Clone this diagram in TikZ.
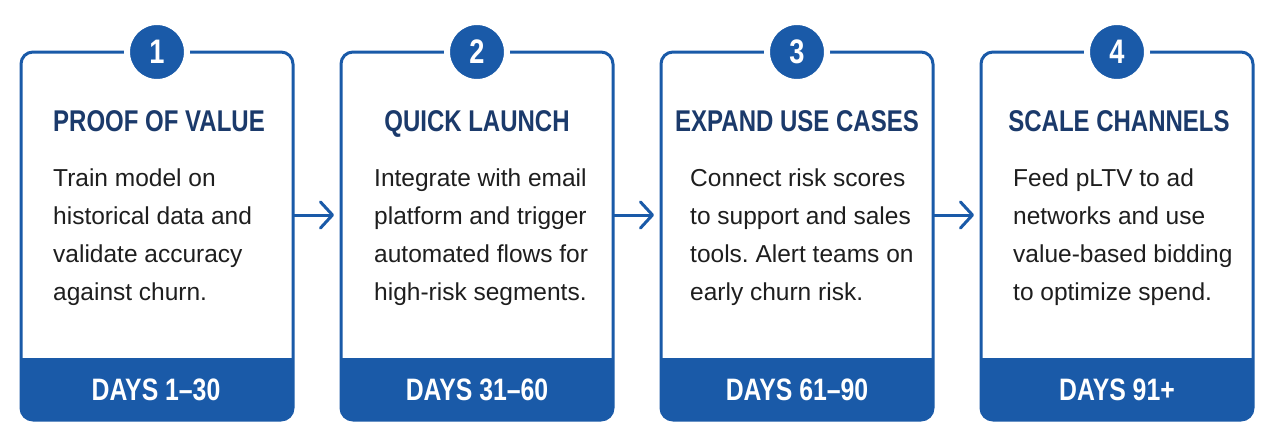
\documentclass[tikz,border=0pt]{standalone}
\usepackage{fontspec}
\setmainfont{Liberation Sans}
\newfontfamily\headfont[FakeStretch=0.8]{Liberation Sans}
\usetikzlibrary{arrows.meta, positioning}
\definecolor{stepblue}{HTML}{1A5AA8}
\definecolor{navy}{HTML}{1B3A6B}
\definecolor{ink}{HTML}{1E1E1E}
\frenchspacing

\begin{document}
\begin{tikzpicture}[x=1pt, y=-1pt]
\fill[white] (0,0) rectangle (1280,442);
\useasboundingbox (0,0) rectangle (1280,442);

\begin{scope}[every node/.style={shape=rectangle,
    draw=stepblue, fill=white, line width=3pt, rounded corners=12pt,
    minimum width=272pt, minimum height=368pt, inner sep=0pt, outer sep=0pt}]
    \node (c1) at (157,236) {};
    \node (c2) at (477,236) {};
    \node (c3) at (797,236) {};
    \node (c4) at (1117,236) {};
\end{scope}

\foreach \c in {c1,c2,c3,c4} {
  \begin{scope}
    \clip[rounded corners=12pt] (\c.south west) rectangle (\c.north east);
    \fill[stepblue] (\c.south west) rectangle ([yshift=62pt]\c.south east);
  \end{scope}
}

\begin{scope}[every node/.style={shape=circle,
    fill=stepblue, draw=white, line width=6pt, minimum size=60pt,
    inner sep=0pt, text=white, font=\headfont\bfseries\fontsize{34}{34}\selectfont}]
    \node (n1) at (c1.north) {1};
    \node (n2) at (c2.north) {2};
    \node (n3) at (c3.north) {3};
    \node (n4) at (c4.north) {4};
\end{scope}

\begin{scope}[every node/.style={inner sep=0pt, anchor=base, text=navy,
    font=\headfont\bfseries\fontsize{30}{30}\selectfont}]
    \node (t1) at (159,131) {PROOF OF VALUE};
    \node (t2) at (477,131) {QUICK LAUNCH};
    \node (t3) at (797,131) {EXPAND USE CASES};
    \node (t4) at (1119,131) {SCALE CHANNELS};
\end{scope}

\begin{scope}[every node/.style={inner sep=0pt, anchor=north west, align=left,
    text=ink, font=\fontsize{24.5}{37.7}\selectfont}]
    \node (b1) at (53,169) {Train model on\\historical data and\\validate accuracy\\against churn.};
    \node (b2) at (374,169) {Integrate with email\\platform and trigger\\automated flows for\\high-risk segments.};
    \node (b3) at (690,169) {Connect risk scores\\to support and sales\\tools. Alert teams on\\early churn risk.};
    \node (b4) at (1013,169) {Feed pLTV to ad\\networks and use\\value-based bidding\\to optimize spend.};
\end{scope}

\begin{scope}[every node/.style={inner sep=0pt, anchor=base, text=white,
    font=\headfont\bfseries\fontsize{31}{31}\selectfont}]
    \node (d1) at (156,400) {DAYS 1–30};
    \node (d2) at (477,400) {DAYS 31–60};
    \node (d3) at (797,400) {DAYS 61–90};
    \node (d4) at (1117,400) {DAYS 91+};
\end{scope}

\begin{scope}[every edge/.style={draw=stepblue, line width=3pt, shorten >=7pt,
    -{Straight Barb[length=12pt, width=26pt, line cap=round, line join=round]}}]
    \path ([yshift=21pt]c1.east) edge ([yshift=21pt]c2.west);
    \path ([yshift=21pt]c2.east) edge ([yshift=21pt]c3.west);
    \path ([yshift=21pt]c3.east) edge ([yshift=21pt]c4.west);
\end{scope}
\end{tikzpicture}
\end{document}
